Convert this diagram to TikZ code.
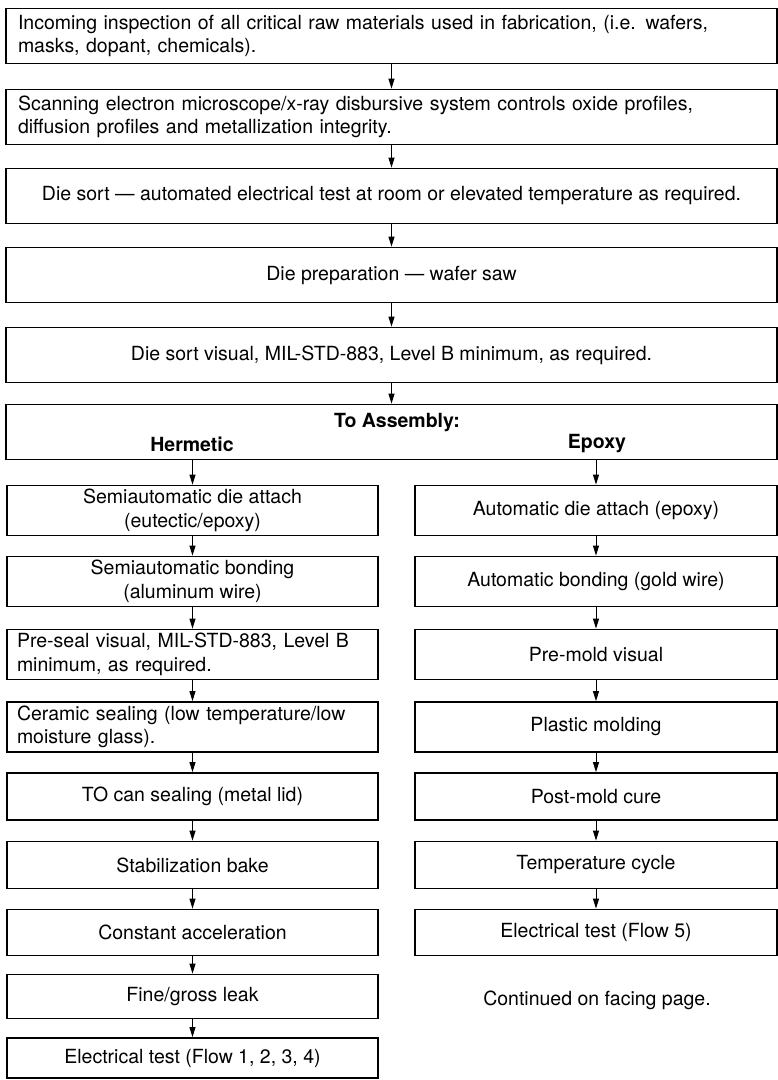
\documentclass[tikz,border=0pt]{standalone}
\usepackage{fontspec}
\setmainfont{TeX Gyre Heros}
\usetikzlibrary{arrows.meta}
\begin{document}
\begin{tikzpicture}[x=1pt, y=-1pt,
  every node/.style={font=\fontsize{19.5}{23.5}\selectfont},
  wide/.style={draw, line width=1.8pt, minimum width=771, minimum height=55, inner sep=0},
  widetext/.style={wide, text width=747, inner xsep=12, align=left},
  lbox/.style={draw, line width=1.8pt, minimum width=371, minimum height=50, inner sep=0, align=center},
  lboxtext/.style={lbox, text width=351, inner xsep=10, align=left},
  rbox/.style={draw, line width=1.8pt, minimum width=362, minimum height=50, inner sep=0, align=center},
  head/.style={font=\fontsize{19.5}{23.5}\selectfont\bfseries},
  flow/.style={-{Triangle[length=10pt,width=6pt]}, line width=0.9pt}]
  \useasboundingbox (0,0) rectangle (778,1080);
  \node[widetext] (inspect) at (391.5,36) {Incoming inspection of all critical raw materials used in fabrication, (i.e. wafers,\\ masks, dopant, chemicals).};
  \node[widetext] (sem) at (391.5,117) {Scanning electron microscope/x-ray disbursive system controls oxide profiles,\\ diffusion profiles and metallization integrity.};
  \node[wide] (sort) at (391.5,196) {Die sort — automated electrical test at room or elevated temperature as required.};
  \node[wide] (prep) at (391.5,275) {Die preparation — wafer saw};
  \node[wide] (visual) at (391.5,355) {Die sort visual, MIL-STD-883, Level B minimum, as required.};
  \node[wide] (assembly) at (391.5,432) {};
  \node[head] (toasm) at (397,423) {To Assembly:};
  \node[head] (herm) at (192,444) {Hermetic};
  \node[head] (epoxy) at (597,444) {Epoxy};

  \node[lbox] (h1) at (192.5,510.5) {Semiautomatic die attach\\(eutectic/epoxy)};
  \node[lbox] (h2) at (192.5,581.5) {Semiautomatic bonding\\(aluminum wire)};
  \node[lboxtext] (h3) at (192.5,654.5) {Pre-seal visual, MIL-STD-883, Level B\\minimum, as required.};
  \node[lboxtext] (h4) at (192.5,727) {Ceramic sealing (low temperature/low\\moisture glass).};
  \node[lbox, minimum height=47] (h5) at (192.5,796.5) {TO can sealing (metal lid)};
  \node[lbox, minimum height=47] (h6) at (192.5,865) {Stabilization bake};
  \node[lbox, minimum height=46] (h7) at (192.5,932.5) {Constant acceleration};
  \node[lbox, minimum height=44] (h8) at (192.5,996.5) {Fine/gross leak};
  \node[lbox, minimum height=40] (h9) at (192.5,1058) {Electrical test (Flow 1, 2, 3, 4)};

  \node[rbox] (e1) at (596,510.5) {Automatic die attach (epoxy)};
  \node[rbox] (e2) at (596,581.5) {Automatic bonding (gold wire)};
  \node[rbox] (e3) at (596,654.5) {Pre-mold visual};
  \node[rbox] (e4) at (596,727) {Plastic molding};
  \node[rbox, minimum height=47] (e5) at (596,796.5) {Post-mold cure};
  \node[rbox, minimum height=47] (e6) at (596,865) {Temperature cycle};
  \node[rbox, minimum height=46] (e7) at (596,932.5) {Electrical test (Flow 5)};
  \node (cont) at (597,1000) {Continued on facing page.};

  \draw[flow] (inspect) -- (sem);
  \draw[flow] (sem) -- (sort);
  \draw[flow] (sort) -- (prep);
  \draw[flow] (prep) -- (visual);
  \draw[flow] (visual) -- (assembly);
  \draw[flow] (assembly.south -| h1) -- (h1);
  \draw[flow] (assembly.south -| e1) -- (e1);
  \draw[flow] (h1) -- (h2);
  \draw[flow] (h2) -- (h3);
  \draw[flow] (h3) -- (h4);
  \draw[flow] (h4) -- (h5);
  \draw[flow] (h5) -- (h6);
  \draw[flow] (h6) -- (h7);
  \draw[flow] (h7) -- (h8);
  \draw[flow] (h8) -- (h9);
  \draw[flow] (e1) -- (e2);
  \draw[flow] (e2) -- (e3);
  \draw[flow] (e3) -- (e4);
  \draw[flow] (e4) -- (e5);
  \draw[flow] (e5) -- (e6);
  \draw[flow] (e6) -- (e7);
\end{tikzpicture}
\end{document}
